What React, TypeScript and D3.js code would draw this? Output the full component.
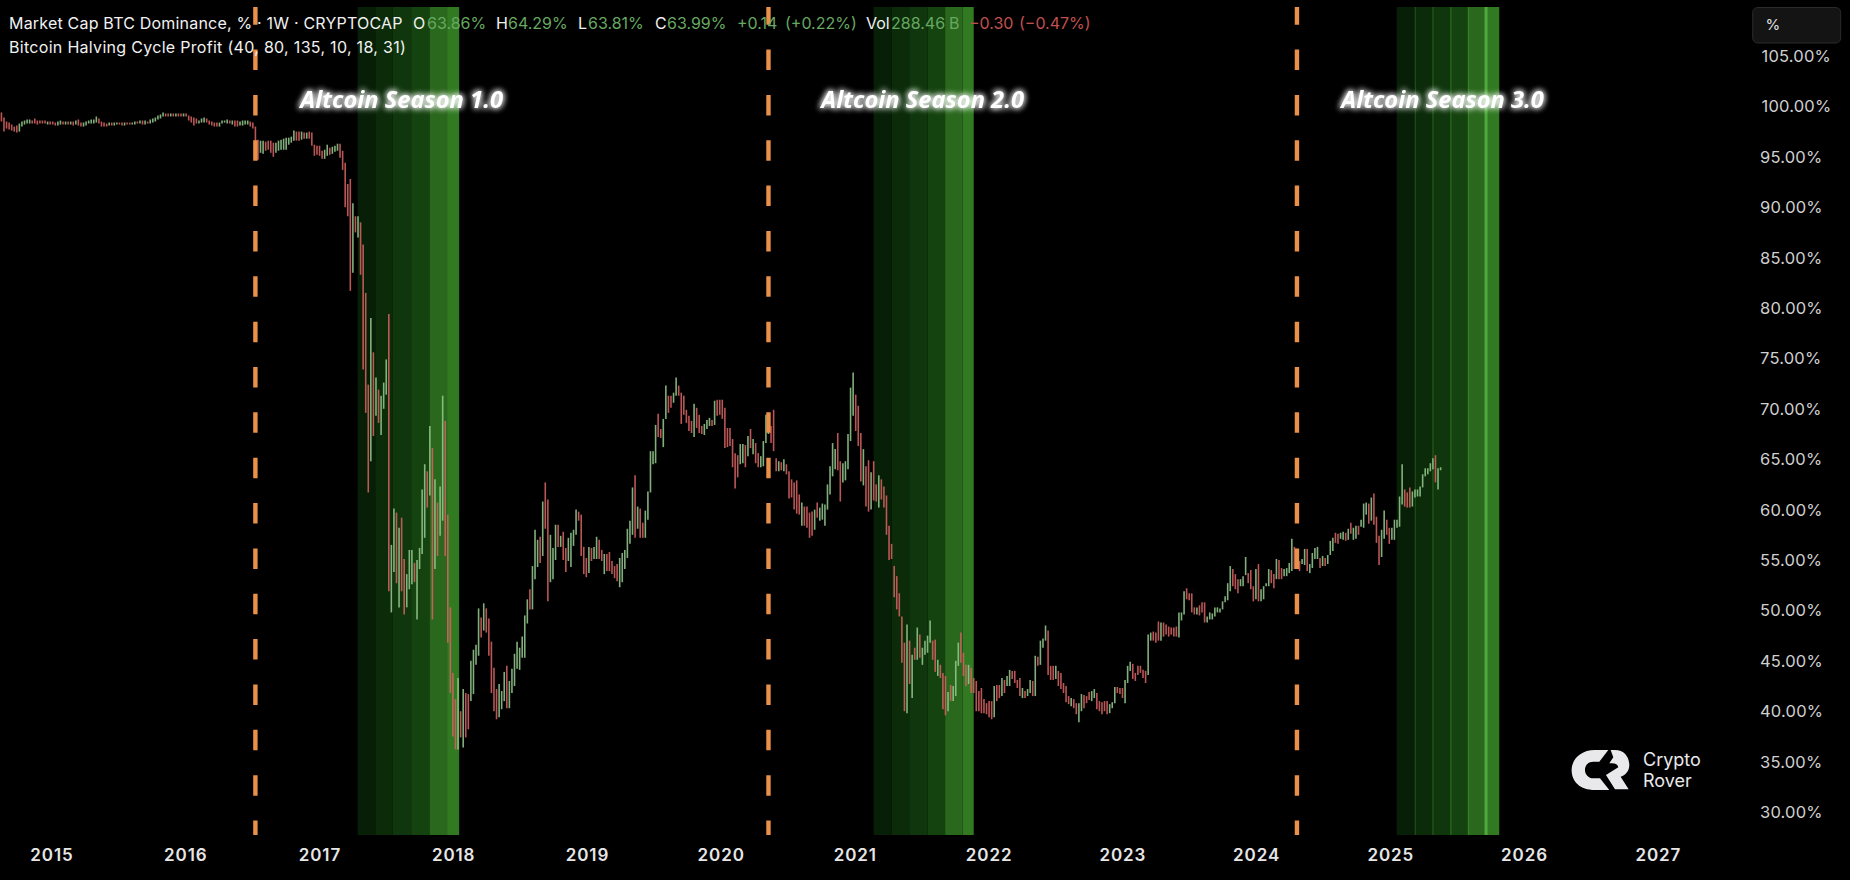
import React, { useEffect, useRef } from 'react';
import * as d3 from 'd3';

type Bar = [number, number, number]; // high, low, 1 = closed up

const firstWeek = Date.UTC(2014, 7, 16);
const weekMs = 7 * 24 * 3600 * 1000;

const bars2014to2016: Bar[] = [
  [99.4,98.5,0],[98.9,97.5,0],[98.5,97.8,0],[98.4,97.7,0],[98.2,97.6,0],[98.0,97.5,0],[98.1,97.4,0],[98.3,97.5,1],[98.5,98.0,1],[98.6,98.2,1],
  [98.7,98.3,1],[98.7,98.3,1],[98.6,98.3,0],[98.8,98.3,0],[98.6,98.2,0],[98.6,98.3,0],[98.6,98.3,0],[98.6,98.3,0],[98.5,98.2,1],[98.5,98.2,0],
  [98.5,98.2,0],[98.4,98.1,0],[98.5,98.1,1],[98.6,98.2,1],[98.5,98.2,0],[98.5,98.2,1],[98.5,98.2,0],[98.5,98.2,1],[98.5,98.1,0],[98.6,98.2,1],
  [98.7,98.1,0],[98.4,98.0,0],[98.4,98.0,1],[98.5,98.1,1],[98.6,98.3,1],[98.7,98.3,1],[98.7,98.3,1],[99.0,98.4,1],[98.8,98.3,0],[98.5,98.0,0],
  [98.4,98.0,0],[98.3,98.0,0],[98.4,98.1,1],[98.4,98.1,0],[98.4,98.1,1],[98.4,98.2,1],[98.4,98.2,0],[98.4,98.1,0],[98.4,98.1,1],[98.4,98.2,0],
  [98.4,98.2,0],[98.4,98.2,1],[98.5,98.2,1],[98.5,98.3,0],[98.6,98.3,1],[98.6,98.2,0],[98.6,98.2,1],[98.5,98.3,0],[98.7,98.3,1],[98.8,98.4,1],
  [98.9,98.5,1],[99.1,98.7,1],[99.2,98.8,1],[99.4,99.0,1],[99.3,99.0,0],[99.3,99.0,0],[99.3,99.0,1],[99.3,99.0,0],[99.3,99.0,1],[99.3,99.0,0],
  [99.3,99.0,0],[99.3,99.0,1],[99.3,99.0,0],[99.1,98.6,0],[99.0,98.4,0],[98.9,98.1,0],[98.8,98.3,0],[98.6,98.3,1],[98.8,98.4,1],[98.9,98.4,1],
  [98.8,98.4,0],[98.6,98.2,0],[98.5,98.1,0],[98.4,98.0,0],[98.4,98.0,0],[98.4,98.0,1],[98.6,98.3,1],[98.6,98.4,1],[98.7,98.3,1],[98.6,98.3,0],
  [98.6,98.2,1],[98.6,98.0,0],[98.6,98.0,0],[98.5,98.1,1],[98.6,98.1,1],[98.6,98.2,1],[98.6,98.2,1],[98.5,98.0,0],[98.4,97.8,0],[98.0,96.5,0],
];

const bars2016to2018: Bar[] = [
  [96.7,94.7,0],[96.6,95.4,1],[96.6,95.3,1],[96.5,95.6,0],[96.6,95.7,0],[96.6,95.4,0],[96.4,95.0,0],[96.4,95.4,1],[96.6,95.6,1],[96.7,95.7,1],
  [96.8,95.7,1],[96.9,95.7,1],[96.9,96.2,1],[97.0,96.4,1],[97.6,96.6,1],[97.5,96.6,0],[97.5,96.6,0],[97.5,96.7,1],[97.4,96.8,0],[97.4,96.8,1],
  [97.5,96.8,0],[97.4,96.1,0],[96.2,95.1,0],[96.1,95.2,0],[96.1,95.1,0],[95.6,94.8,0],[95.7,94.8,1],[96.2,95.1,1],[95.9,95.2,0],[96.0,95.3,1],
  [96.1,95.5,1],[96.3,95.6,1],[96.3,94.9,0],[95.6,93.7,0],[94.4,90.0,0],[92.3,89.1,0],[92.8,81.7,0],[90.4,83.5,1],[89.1,87.5,0],[89.1,87.0,1],
  [88.5,83.3,0],[86.3,73.9,0],[81.5,69.6,0],[72.4,61.7,0],[79.0,64.8,1],[75.6,67.3,0],[73.1,69.3,1],[71.9,68.6,0],[71.3,67.4,1],[72.6,70.0,1],
  [74.9,71.4,1],[79.4,51.9,0],[56.5,49.8,1],[60.1,53.8,1],[59.7,52.7,0],[58.2,50.3,1],[59.2,51.9,0],[55.1,49.6,0],[53.6,50.3,1],[56.0,52.1,1],
  [56.0,52.6,1],[54.7,52.8,0],[55.0,49.1,1],[56.2,54.1,1],[62.0,55.6,1],[64.5,57.2,1],[63.8,60.2,0],[68.3,61.4,1],[66.1,49.1,0],[63.0,54.1,1],
  [60.7,55.4,0],[62.3,57.4,1],[71.3,58.9,1],[68.8,55.4,0],[59.5,46.8,0],[50.3,41.8,0],[43.8,37.5,0],[41.2,36.2,0],[43.3,36.2,1],[40.0,37.4,0],
  [42.2,36.4,1],
];

const bars2018to2020: Bar[] = [
  [41.8,37.4,0],[41.7,38.2,0],[45.0,41.0,1],[46.1,41.7,1],[46.6,44.6,1],[50.2,45.5,1],[49.3,47.3,0],[50.7,48.0,1],[50.2,47.8,0],[49.2,45.5,0],
  [46.9,41.8,0],[44.3,40.0,0],[42.2,39.2,0],[42.7,39.4,1],[42.0,40.2,1],[43.9,41.0,1],[44.5,40.3,0],[43.0,40.3,1],[44.2,41.8,1],[45.7,42.5,1],
  [46.9,44.2,1],[46.3,44.1,1],[47.4,45.3,1],[49.5,45.3,1],[51.1,48.7,1],[52.1,50.1,0],[54.4,50.1,1],[58.0,53.1,1],[57.0,54.3,1],[57.3,54.7,0],
  [60.8,55.4,1],[62.7,58.1,0],[61.0,50.9,0],[57.5,52.8,1],[56.2,53.1,1],[58.5,55.0,1],[58.5,56.3,0],[57.4,56.3,1],[57.8,55.0,0],[56.2,53.8,0],
  [57.2,54.9,1],[57.7,54.3,1],[58.0,56.4,1],[60.0,57.5,1],[59.8,58.9,0],[59.5,55.4,0],[56.3,53.6,0],[55.2,53.3,0],[56.3,53.7,1],[56.2,54.9,0],
  [56.3,55.1,1],[57.3,55.1,1],[57.0,55.1,0],[56.0,54.9,0],[55.6,53.6,1],[55.6,53.9,0],[55.8,53.9,0],[54.9,53.6,0],[54.4,53.2,0],[54.6,52.9,0],
  [55.2,52.3,1],[55.7,52.8,1],[56.0,54.1,1],[58.1,55.2,1],[58.9,56.6,1],[62.2,57.5,1],[63.4,57.2,0],[60.3,58.1,1],[60.1,57.2,0],[58.7,57.2,0],
  [59.9,57.2,1],[61.8,59.0,1],[65.8,61.7,1],[65.8,64.5,1],[68.4,64.6,1],[69.5,67.2,0],[68.0,67.1,0],[69.0,66.2,1],[72.3,69.0,1],[71.3,69.6,0],
  [71.3,70.1,0],[71.6,70.6,1],[73.1,71.3,1],[72.3,71.3,0],[71.6,68.5,0],[71.3,69.4,0],[69.9,68.6,0],[69.3,67.8,0],[68.8,67.6,0],[70.5,67.2,1],
  [70.1,68.1,0],[69.4,67.6,0],[68.3,67.5,0],[68.5,67.4,1],[68.9,68.0,1],[69.1,68.3,1],[68.9,68.3,0],[70.8,68.4,1],[70.9,69.3,0],[70.9,69.4,0],
  [70.9,69.0,0],[70.1,66.1,0],[68.1,66.2,0],[68.1,66.3,0],[67.0,64.2,0],[65.6,62.1,0],[65.4,63.2,0],[66.5,64.5,1],[66.5,64.6,1],[66.4,64.2,0],
  [67.3,65.3,1],[68.0,66.1,0],[67.0,65.5,1],[66.6,64.6,0],[65.6,64.2,0],[65.3,64.2,1],[66.8,64.3,1],[69.4,66.6,1],
];

const bars2020to2022: Bar[] = [
  [69.6,67.5,1],[68.3,66.6,0],[69.9,65.8,0],[65.1,63.8,0],[64.8,63.8,1],[64.7,63.9,0],[65.0,63.8,1],[64.5,63.5,0],[63.8,61.1,0],[63.0,61.2,0],
  [62.7,60.0,0],[62.9,59.6,0],[61.5,59.5,0],[60.7,58.4,1],[60.3,58.4,0],[60.3,58.2,0],[59.7,57.2,0],[59.8,57.4,0],[60.0,58.0,1],[60.7,59.2,0],
  [60.2,58.9,1],[60.6,59.0,1],[60.5,58.4,1],[62.5,60.0,1],[64.3,61.5,1],[66.6,63.3,1],[66.0,64.0,1],[67.6,63.9,0],[64.8,60.8,0],[64.6,62.7,1],
  [64.8,62.9,1],[67.5,64.0,1],[72.1,66.8,1],[73.6,69.3,1],[71.4,67.8,0],[70.3,66.3,0],[67.6,62.8,0],[66.0,62.4,1],[64.3,60.3,0],[64.9,59.8,0],
  [63.7,60.0,1],[64.8,60.9,0],[62.5,60.8,0],[63.4,60.2,1],[63.0,61.0,0],[62.3,60.2,0],[61.4,57.5,0],[58.4,55.0,0],[56.6,55.1,0],[54.4,51.3,0],
  [53.4,50.1,0],[51.7,49.4,0],[49.4,44.8,0],[46.8,40.0,0],[48.6,39.8,1],[47.0,42.7,0],[45.6,41.3,1],[46.3,45.1,0],[48.3,45.1,1],[47.6,45.3,0],
  [46.3,44.6,1],[47.0,45.6,1],[47.5,45.8,1],[49.0,46.8,1],[47.0,45.1,0],[47.1,43.9,0],[45.1,43.5,1],[44.6,43.3,0],[43.8,40.2,0],[43.5,39.6,0],
  [41.9,40.0,1],[42.6,41.0,0],[42.5,41.0,1],[45.0,41.5,1],[46.8,44.5,1],[47.8,44.8,0],[45.8,43.5,0],[44.6,42.5,0],[44.6,42.7,1],[44.3,41.8,0],
  [43.3,41.8,0],[43.0,40.0,0],[42.0,40.0,0],[42.3,39.8,0],[41.2,39.8,0],[40.8,39.7,0],[41.0,39.4,0],[41.0,39.2,0],
];

const bars2022to2024: Bar[] = [
  [42.5,39.4,1],[42.6,41.0,0],[42.6,41.3,0],[43.3,41.5,1],[43.1,41.8,0],[43.5,42.5,1],[44.1,42.5,1],[44.0,43.2,0],[44.0,42.8,0],[43.1,42.3,0],
  [43.3,41.5,0],[42.3,41.3,1],[42.0,41.3,0],[42.2,41.5,1],[43.1,41.8,1],[43.0,41.5,0],[45.5,41.5,1],[45.4,44.5,0],[47.0,44.6,1],[47.2,46.3,1],
  [48.5,47.0,1],[48.0,43.6,0],[44.5,43.1,0],[44.5,43.1,0],[44.5,43.2,1],[44.0,42.5,0],[43.8,42.2,0],[42.8,41.8,0],[42.5,40.9,0],[41.5,40.7,0],
  [41.3,40.5,1],[41.2,40.3,0],[40.8,39.7,0],[40.8,38.9,1],[41.7,40.0,1],[41.6,40.3,0],[41.5,40.8,0],[41.9,41.1,0],[42.0,41.0,1],[42.2,41.3,1],
  [41.8,40.2,0],[41.0,40.0,0],[40.9,39.7,0],[41.0,40.0,0],[41.0,39.7,0],[40.7,39.8,1],[40.9,40.3,1],[42.4,40.8,1],[42.4,41.8,0],[42.3,41.7,0],
  [42.3,41.3,0],[43.1,40.8,1],[44.5,42.8,1],[44.9,44.0,1],[44.7,43.2,0],[43.8,43.0,0],[44.5,43.6,0],[44.5,43.8,0],[44.1,43.3,0],[44.0,42.8,0],
  [47.6,43.6,1],[47.8,47.0,1],[47.9,47.0,0],[47.8,46.8,0],[48.9,47.0,0],[48.8,47.0,1],[48.8,47.4,0],[48.6,47.6,0],[48.4,47.4,0],[48.3,47.6,0],
  [48.3,47.4,0],[48.4,47.4,0],[49.8,47.3,1],[49.8,49.0,1],[51.9,49.6,1],[52.2,51.1,0],[51.7,51.0,0],[51.7,49.8,0],[50.3,49.6,0],[50.3,49.6,1],
  [50.5,49.5,0],[50.8,49.8,0],[50.8,48.8,0],[49.4,48.8,1],[49.8,49.1,1],[49.7,49.1,1],[50.3,49.4,1],[50.3,49.8,1],[50.2,49.8,1],[50.9,50.1,1],
  [51.4,50.8,1],[52.7,51.0,1],[54.4,51.9,1],[54.1,52.4,0],[53.6,52.1,0],[53.1,51.7,0],[53.1,52.4,1],[53.4,52.4,1],[55.3,53.5,1],[53.7,52.7,0],
  [54.0,52.1,0],[52.4,50.9,0],[54.1,51.1,1],[54.6,50.9,0],[52.1,50.9,1],[52.4,51.1,1],[52.7,52.4,1],[54.1,52.4,1],[54.0,52.7,0],[53.6,52.2,0],
  [55.1,53.1,1],[55.0,53.1,0],[54.2,53.1,0],[54.1,53.4,1],[54.2,53.4,1],[54.7,53.7,1],[57.1,53.9,1],
];

const bars2024to2025: Bar[] = [
  [56.3,54.1,0],[56.0,54.2,0],[54.9,53.9,0],[55.1,54.6,1],[56.1,54.5,1],[56.1,53.9,0],[54.6,53.7,1],[55.7,54.2,1],[56.2,55.1,1],[56.3,55.1,1],
  [55.2,54.2,0],[55.4,54.4,1],[55.2,54.4,0],[55.5,54.6,1],[56.9,55.5,1],[57.2,55.9,1],[57.7,56.7,0],[57.6,56.6,0],[57.7,57.1,1],[57.8,57.0,1],
  [57.7,56.9,0],[58.1,57.0,1],[58.7,57.6,0],[58.2,57.0,1],[58.4,57.1,1],[58.4,57.5,0],[59.0,58.3,1],[60.6,58.2,1],[60.7,59.5,1],[60.6,58.6,0],
  [61.2,58.9,1],[61.6,58.5,0],[59.3,56.7,0],[57.4,54.5,0],[58.0,55.3,1],[59.9,57.1,1],[59.0,57.5,0],[58.2,56.6,0],[58.2,57.0,1],[59.0,57.0,1],
  [59.0,58.2,1],[61.3,58.3,1],[64.5,60.5,1],[62.0,60.3,0],[61.7,60.2,0],[62.2,60.2,0],[61.8,60.3,1],[62.0,61.2,1],[62.0,61.3,1],[62.3,61.3,1],
  [63.5,62.2,1],[64.1,63.3,1],[64.1,63.5,1],[64.6,63.8,1],[65.1,64.0,1],[65.4,62.7,0],[64.1,62.0,1],[64.2,63.9,1],
];

const yearTicks = [2015, 2016, 2017, 2018, 2019, 2020, 2021, 2022, 2023, 2024, 2025, 2026, 2027];
const percentTicks = [30, 35, 40, 45, 50, 55, 60, 65, 70, 75, 80, 85, 90, 95, 100, 105];
const halvingDates = ['2016-07-09', '2020-05-09', '2024-04-20'];
const seasonNames = ['Altcoin Season 1.0', 'Altcoin Season 2.0', 'Altcoin Season 3.0'];
const seasonEdges = [
  ['2017-04-14', '2017-06-01', '2017-07-19', '2017-09-07', '2017-10-27', '2017-12-14', '2018-01-16'],
  ['2021-02-20', '2021-04-10', '2021-05-28', '2021-07-17', '2021-09-03', '2021-10-21', '2021-11-20'],
  ['2025-01-17', '2025-03-09', '2025-04-26', '2025-06-14', '2025-08-01', '2025-09-18', '2025-10-24'],
];
const stageColors = ['#071f06', '#0b2b09', '#0f360c', '#15430f', '#2a681d', '#327a22'];
const stageLines = ['#1c4c15', '#215a19', '#27691f', '#367f29', '#4fa83c'];

// text pieces of the status line: text, left edge, colour
const headerInk = '#f1f1f1';
const headerUp = '#67a862';
const headerDown = '#c0504f';
const statusLabels: [string, number, string][] = [
  ['Market Cap BTC Dominance, % · 1W · CRYPTOCAP', 9, headerInk],
  ['O', 413, headerInk], ['63.86%', 427, headerUp],
  ['H', 496, headerInk], ['64.29%', 508, headerUp],
  ['L', 578, headerInk], ['63.81%', 588, headerUp],
  ['C', 655, headerInk], ['63.99%', 667, headerUp],
  ['+0.14', 737, headerUp], ['(+0.22%)', 785, headerUp],
  ['Vol', 866, headerInk], ['288.46', 891, headerUp], ['B', 949, headerUp],
  ['−0.30', 969, headerDown], ['(−0.47%)', 1019, headerDown],
];
const indicatorLabel = 'Bitcoin Halving Cycle Profit (40, 80, 135, 10, 18, 31)';

const W = 1850;
const H = 880;
const plotTop = 7;
const plotBottom = 835;
const uiFont = 'Inter, "Noto Sans", sans-serif';

const App: React.FC = () => {
  const ref = useRef<SVGSVGElement>(null);

  useEffect(() => {
    if (!ref.current) return;
    document.body.style.margin = '0';
    document.body.style.background = '#000';

    const svg = d3.select(ref.current);
    svg.selectAll('*').remove();

    const x = d3
      .scaleUtc()
      .domain([Date.UTC(2015, 0, 1), Date.UTC(2027, 0, 1)])
      .range([52, 1658.3]);
    const y = d3.scaleLinear().domain([30, 105]).range([812, 56]);

    const defs = svg.append('defs');
    defs
      .append('clipPath')
      .attr('id', 'plot')
      .append('rect')
      .attr('x', 0)
      .attr('y', plotTop)
      .attr('width', W)
      .attr('height', plotBottom - plotTop);

    const glow = defs
      .append('filter')
      .attr('id', 'glow')
      .attr('x', '-10%')
      .attr('y', '-50%')
      .attr('width', '120%')
      .attr('height', '200%');
    glow.append('feGaussianBlur').attr('in', 'SourceGraphic').attr('stdDeviation', 3).attr('result', 'b');
    const merge = glow.append('feMerge');
    merge.append('feMergeNode').attr('in', 'b');
    merge.append('feMergeNode').attr('in', 'b');
    merge.append('feMergeNode').attr('in', 'SourceGraphic');

    svg.append('rect').attr('width', W).attr('height', H).attr('fill', '#000');

    // season bands
    const bands = svg.append('g');
    seasonEdges.forEach((edges, s) => {
      const px = edges.map((d) => x(new Date(d)));
      d3.pairs(px).forEach(([a, b], i) => {
        bands
          .append('rect')
          .attr('x', a)
          .attr('y', plotTop)
          .attr('width', b - a)
          .attr('height', plotBottom - plotTop)
          .attr('fill', stageColors[i]);
      });
      // only the last cycle shows the lighter stage borders
      if (s === 2) {
        px.slice(1, 6).forEach((p, i) => {
          bands
            .append('line')
            .attr('x1', p)
            .attr('x2', p)
            .attr('y1', plotTop)
            .attr('y2', plotBottom)
            .attr('stroke', stageLines[i])
            .attr('stroke-width', i === 4 ? 3 : 1.3);
        });
      }
    });

    // weekly bars
    const allBars = [
      ...bars2014to2016,
      ...bars2016to2018,
      ...bars2018to2020,
      ...bars2020to2022,
      ...bars2022to2024,
      ...bars2024to2025,
    ];
    svg
      .append('g')
      .attr('clip-path', 'url(#plot)')
      .selectAll('line')
      .data(allBars)
      .enter()
      .append('line')
      .attr('x1', (_, i) => x(firstWeek + i * weekMs))
      .attr('x2', (_, i) => x(firstWeek + i * weekMs))
      .attr('y1', (d) => y(d[0]))
      .attr('y2', (d) => y(d[1]))
      .attr('stroke', (d) => (d[2] ? '#93c78c' : '#d46262'))
      .attr('stroke-opacity', 0.88)
      .attr('stroke-width', 1.6);

    // halving lines
    svg
      .append('g')
      .attr('clip-path', 'url(#plot)')
      .selectAll('line')
      .data(halvingDates)
      .enter()
      .append('line')
      .attr('x1', (d) => x(new Date(d)))
      .attr('x2', (d) => x(new Date(d)))
      .attr('y1', 4.2)
      .attr('y2', plotBottom)
      .attr('stroke', '#ea9048')
      .attr('stroke-width', 4.4)
      .attr('stroke-dasharray', '20.5 24.85');

    // status lines
    const status = svg
      .append('g')
      .attr('font-family', uiFont)
      .attr('font-size', 16)
      .attr('dominant-baseline', 'middle');
    status
      .selectAll('text')
      .data(statusLabels)
      .enter()
      .append('text')
      .attr('x', (d) => d[1])
      .attr('y', 24.5)
      .attr('fill', (d) => d[2])
      .attr('letter-spacing', (_, i) => (i === 0 ? 0.2 : 0))
      .text((d) => d[0]);
    status
      .append('text')
      .attr('x', 9)
      .attr('y', 48.5)
      .attr('fill', headerInk)
      .attr('letter-spacing', 0.3)
      .text(indicatorLabel);

    // season titles, centred over the first two stages' shift
    svg
      .append('g')
      .selectAll('text')
      .data(seasonNames)
      .enter()
      .append('text')
      .attr('x', (_, i) => x(new Date(seasonEdges[i][0])) + [44, 49, 46][i])
      .attr('y', 102)
      .attr('text-anchor', 'middle')
      .attr('dominant-baseline', 'middle')
      .attr('font-family', '"Open Sans", sans-serif')
      .attr('font-size', 23.7)
      .attr('font-weight', 700)
      .attr('font-style', 'italic')
      .attr('fill', '#fff')
      .attr('filter', 'url(#glow)')
      .text((d) => d);

    // price axis
    svg
      .append('g')
      .selectAll('text')
      .data(percentTicks)
      .enter()
      .append('text')
      .attr('x', (d) => (d >= 100 ? 1761.5 : 1760))
      .attr('y', (d) => y(d) + 1.5)
      .attr('dominant-baseline', 'middle')
      .attr('font-family', uiFont)
      .attr('font-size', 16.5)
      .attr('letter-spacing', 0.2)
      .attr('fill', '#cfcfcf')
      .text((d) => `${d3.format('.2f')(d)}%`);

    const unit = svg.append('g');
    unit
      .append('rect')
      .attr('x', 1752.7)
      .attr('y', 7.5)
      .attr('width', 88)
      .attr('height', 35.5)
      .attr('rx', 5)
      .attr('fill', '#141414')
      .attr('stroke', '#2b2b2b');
    unit
      .append('text')
      .attr('x', 1765.5)
      .attr('y', 26)
      .attr('dominant-baseline', 'middle')
      .attr('font-family', uiFont)
      .attr('font-size', 15)
      .attr('fill', '#e0e0e0')
      .text('%');

    // time axis
    svg
      .append('g')
      .selectAll('text')
      .data(yearTicks)
      .enter()
      .append('text')
      .attr('x', (d) => x(Date.UTC(d, 0, 1)))
      .attr('y', 856.5)
      .attr('text-anchor', 'middle')
      .attr('dominant-baseline', 'middle')
      .attr('font-family', uiFont)
      .attr('font-size', 17)
      .attr('font-weight', 600)
      .attr('letter-spacing', 0.9)
      .attr('fill', '#e6e6e6')
      .text((d) => d);

    // watermark
    const logo = svg.append('g').attr('fill', '#e9e9ec');
    const mark = logo.append('g').attr('transform', 'translate(1350,420) scale(0.3333)');
    mark
      .append('path')
      .attr(
        'd',
        'M775 990 H735 C690 990 665 1020 665 1050 C665 1085 690 1110 735 1110 H778 L750 1075 H730 C715 1075 705 1063 705 1050 C705 1035 716 1025 730 1025 H748 Z'
      );
    mark
      .append('path')
      .attr(
        'd',
        'M782 990 H795 C822 990 838 1010 838 1035 C838 1052 828 1065 812 1070 L836 1108 H795 L768 1065 L805 1042 C803 1032 795 1028 778 1030 L790 1012 Z'
      );
    logo
      .append('text')
      .attr('x', 1643)
      .attr('y', 766)
      .attr('font-family', uiFont)
      .attr('font-size', 18)
      .text('Crypto');
    logo
      .append('text')
      .attr('x', 1643)
      .attr('y', 787)
      .attr('font-family', uiFont)
      .attr('font-size', 18)
      .text('Rover');
  }, []);

  return <svg ref={ref} width={W} height={H} style={{ display: 'block' }}></svg>;
};

export default App;
